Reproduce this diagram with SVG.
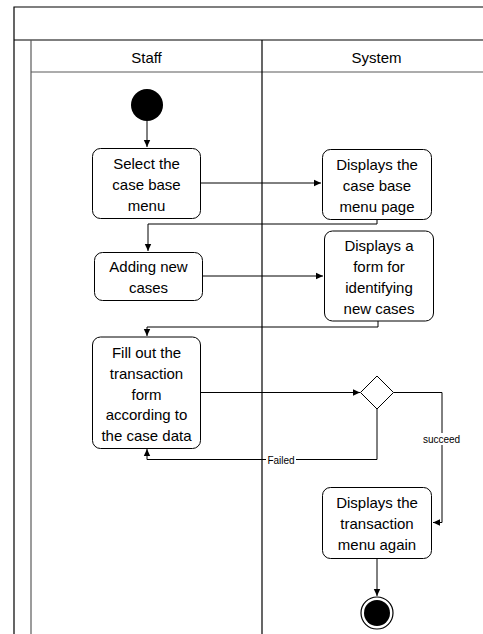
<svg xmlns="http://www.w3.org/2000/svg" width="483" height="634" viewBox="0 0 483 634">
<style>
text{font-family:"Liberation Sans",Arial,sans-serif;fill:#000}
.t{font-size:15px;text-anchor:middle}
.lbl{font-size:10px;text-anchor:middle}
.box{fill:#fff;stroke:#000;stroke-width:1}
.ln{fill:none;stroke:#000;stroke-width:1}
.gl{fill:none;stroke:#5a5a5a;stroke-width:1.2}
.frame{fill:none;stroke:#000;stroke-width:1.2}
</style>
<defs>
<marker id="ah" markerWidth="8" markerHeight="8" refX="7" refY="4" orient="auto" markerUnits="userSpaceOnUse">
<path d="M0,0.8 L7,4 L0,7.2 Z" fill="#000"/>
</marker>
</defs>
<rect width="483" height="634" fill="#fff"/>
<g id="pool">
<path class="frame" d="M483,7 H14 V634"/>
<path class="frame" d="M14,40 H483"/>
<path class="gl" d="M31,40 V634"/>
<path class="gl" d="M31,72 H483"/>
<path class="frame" d="M262,40 V634"/>
<text class="t" x="146.5" y="63">Staff</text>
<text class="t" x="376.5" y="63">System</text>
</g>
<g id="connectors">
<path class="ln" d="M147,121 V147" marker-end="url(#ah)"/>
<path class="ln" d="M201,183 H321" marker-end="url(#ah)"/>
<path class="ln" d="M377,219 V224 H148 V251" marker-end="url(#ah)"/>
<path class="ln" d="M203,276 H323" marker-end="url(#ah)"/>
<path class="ln" d="M378,321 V327 H147 V336" marker-end="url(#ah)"/>
<path class="ln" d="M201,392.5 H360" marker-end="url(#ah)"/>
<path class="ln" d="M393.5,392.5 H442 V522.5 H433" marker-end="url(#ah)"/>
<path class="ln" d="M377,409 V459.5 H147 V449" marker-end="url(#ah)"/>
<path class="ln" d="M377,558 V596" marker-end="url(#ah)"/>
<rect x="266" y="454" width="30" height="12" fill="#fff"/>
<text class="lbl" x="281" y="463.5">Failed</text>
<rect x="422" y="433" width="39" height="12" fill="#fff"/>
<text class="lbl" x="441.5" y="442.5">succeed</text>
</g>
<g id="start"><circle cx="147" cy="105" r="16" fill="#000"/></g>
<g id="select_menu">
<rect class="box" x="92.5" y="148.5" width="108" height="70" rx="8"/>
<text class="t" x="146.5" y="169">Select the</text>
<text class="t" x="146.5" y="190">case base</text>
<text class="t" x="146.5" y="211">menu</text>
</g>
<g id="display_menu">
<rect class="box" x="322.5" y="149.5" width="109" height="70" rx="8"/>
<text class="t" x="377" y="170">Displays the</text>
<text class="t" x="377" y="191">case base</text>
<text class="t" x="377" y="212">menu page</text>
</g>
<g id="adding_cases">
<rect class="box" x="94.5" y="252.5" width="108" height="48" rx="8"/>
<text class="t" x="148.5" y="271.5">Adding new</text>
<text class="t" x="148.5" y="292.5">cases</text>
</g>
<g id="display_form">
<rect class="box" x="324.5" y="231" width="109" height="90" rx="8"/>
<text class="t" x="379" y="251">Displays a</text>
<text class="t" x="379" y="272">form for</text>
<text class="t" x="379" y="293">identifying</text>
<text class="t" x="379" y="314">new cases</text>
</g>
<g id="fill_form">
<rect class="box" x="92.5" y="337" width="108" height="111.5" rx="8"/>
<text class="t" x="146.5" y="358">Fill out the</text>
<text class="t" x="146.5" y="379">transaction</text>
<text class="t" x="146.5" y="399.5">form</text>
<text class="t" x="146.5" y="420">according to</text>
<text class="t" x="146.5" y="441">the case data</text>
</g>
<g id="decision">
<path class="box" d="M377,376 L393.5,392.5 L377,409 L360.5,392.5 Z"/>
</g>
<g id="display_again">
<rect class="box" x="322.5" y="487.5" width="109" height="71" rx="8"/>
<text class="t" x="377" y="508">Displays the</text>
<text class="t" x="377" y="529">transaction</text>
<text class="t" x="377" y="550">menu again</text>
</g>
<g id="end">
<circle cx="377" cy="613" r="16" fill="#fff" stroke="#000" stroke-width="1.2"/>
<circle cx="377" cy="613" r="13" fill="#000"/>
</g>
</svg>
